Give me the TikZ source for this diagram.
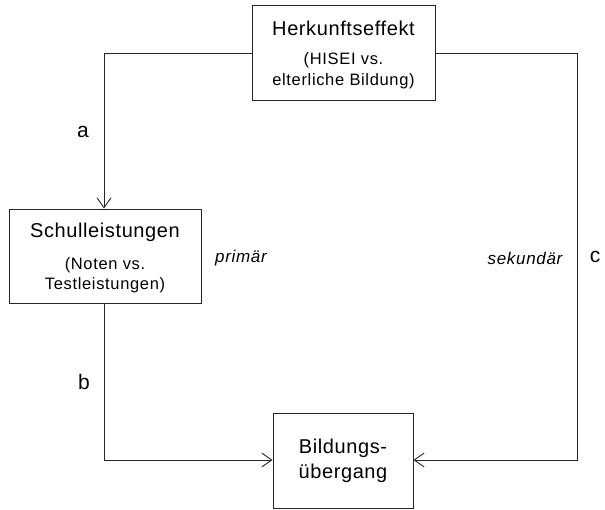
\documentclass[tikz,border=0pt]{standalone}
\usepackage{fontspec}
\setmainfont{Liberation Sans}
\newfontfamily\ttlfont[LetterSpace=3]{Liberation Sans}
\newfontfamily\subfont[LetterSpace=4]{Liberation Sans}
\usetikzlibrary{arrows.meta}
\begin{document}
\begin{tikzpicture}[x=1pt,y=-1pt,
  box/.style={draw=black!85, line width=0.9pt, rectangle, inner sep=0pt},
  ttl/.style={font=\ttlfont\fontsize{20}{22}\selectfont, inner sep=0pt, anchor=center},
  sub/.style={font=\subfont\fontsize{16.5}{18}\selectfont, inner sep=0pt, anchor=center},
  lbl/.style={font=\fontsize{21}{23}\selectfont, inner sep=0pt, anchor=center},
  ilbl/.style={font=\subfont\fontsize{17}{19}\selectfont\itshape, inner sep=0pt, anchor=center},
  conn/.style={draw=black!85, line width=0.9pt},
  arr/.style={conn, -{Straight Barb[length=10pt,width=14pt,line width=0.9pt]}}
]
\useasboundingbox (0,0) rectangle (605,510);
% boxes
\node[box, minimum width=183pt, minimum height=95pt] (her) at (343.5,52.5) {};
\node[box, minimum width=192pt, minimum height=94pt] (sch) at (105,256) {};
\node[box, minimum width=140pt, minimum height=95pt] (bil) at (343,460.5) {};
% texts
\node[ttl] (herT) at (343.5,28) {Herkunftseffekt};
\node[sub] (herS1) at (343.5,60) {(HISEI vs.};
\node[sub] (herS2) at (343.5,81) {elterliche Bildung)};
\node[ttl] (schT) at (105,232) {Schulleistungen};
\node[sub] (schS1) at (105,265) {(Noten vs.};
\node[sub] (schS2) at (105,285) {Testleistungen)};
\node[ttl] (bilT1) at (343,448) {Bildungs-};
\node[ttl] (bilT2) at (343,473) {übergang};
% corner coordinates
\coordinate (tl) at (104,53);
\coordinate (tr) at (577,53);
\coordinate (bl) at (104,460);
\coordinate (br) at (577,460);
% connectors
\draw[arr] (her.west |- tl) -- (tl) -- (sch.north -| tl);
\draw[arr] (sch.south -| bl) -- (bl) -- (bil.west |- bl);
\draw[arr] (her.east |- tr) -- (tr) -- (br) -- (bil.east |- br);
% labels
\node[lbl] (la) at (83,132) {a};
\node[lbl] (lb) at (84,382) {b};
\node[lbl] (lc) at (595,257) {c};
\node[ilbl] (lp) at (241,258) {primär};
\node[ilbl] (ls) at (525,258) {sekundär};
\end{tikzpicture}
\end{document}
